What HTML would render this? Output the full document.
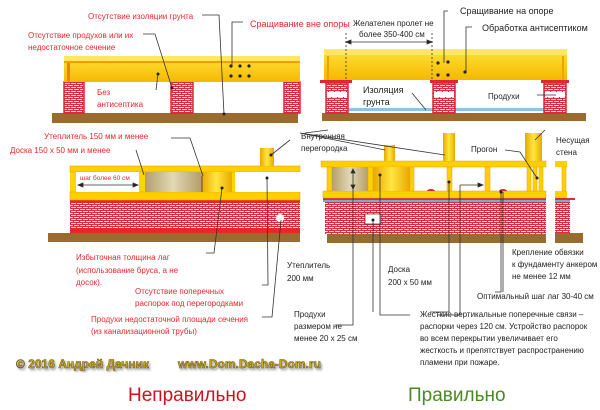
<!DOCTYPE html>
<html><head><meta charset="utf-8"><style>
html,body{margin:0;padding:0;background:#fff}
svg{display:block}
text{font-family:"Liberation Sans",sans-serif}
.r{fill:#e8262b;font-size:8px}
.k{fill:#222;font-size:8px}
</style></head><body>
<svg width="600" height="410" viewBox="0 0 600 410" xmlns="http://www.w3.org/2000/svg">
<defs>
<pattern id="br" width="6" height="4" patternUnits="userSpaceOnUse">
<rect width="6" height="4" fill="#fbe0e4"/>
<path d="M0 0.5H6M0 2.5H6M1.5 0V2.5M4.5 2.5V4" stroke="#e02a40" stroke-width="1.1"/>
</pattern>
<linearGradient id="yb" x1="0" y1="0" x2="0" y2="1"><stop offset="0" stop-color="#ffe23a"/><stop offset="1" stop-color="#f5b800"/></linearGradient>
<linearGradient id="ins" x1="0" y1="0" x2="1" y2="0"><stop offset="0" stop-color="#b59e6a"/><stop offset=".5" stop-color="#e2d8b6"/><stop offset="1" stop-color="#b59e6a"/></linearGradient>
<linearGradient id="post" x1="0" y1="0" x2="1" y2="0"><stop offset="0" stop-color="#e8a800"/><stop offset=".5" stop-color="#ffe640"/><stop offset="1" stop-color="#e8a800"/></linearGradient>
<filter id="sh"><feDropShadow dx="1.5" dy="2" stdDeviation="1" flood-color="#666" flood-opacity="0.6"/></filter>
</defs>

<!-- TOP LEFT -->
<rect x="52" y="113" width="246" height="10" fill="#9b6a2e"/>
<rect x="64" y="82" width="20" height="31" fill="url(#br)" stroke="#d8283a" stroke-width="1.5"/>
<rect x="171" y="82" width="22" height="31" fill="url(#br)" stroke="#d8283a" stroke-width="1.5"/>
<rect x="284" y="82" width="16" height="31" fill="url(#br)" stroke="#d8283a" stroke-width="1.5"/>
<rect x="64" y="56" width="236" height="26" fill="url(#yb)"/>
<rect x="64" y="56" width="236" height="5" fill="#ffe860"/>
<rect x="64" y="61" width="236" height="2" fill="#f0a000"/>
<rect x="67" y="63" width="3" height="18" fill="#f08000"/>
<g fill="#222"><circle cx="231" cy="66" r="1.6"/><circle cx="240" cy="66" r="1.6"/><circle cx="249" cy="66" r="1.6"/><circle cx="231" cy="76" r="1.6"/><circle cx="240" cy="76" r="1.6"/><circle cx="249" cy="76" r="1.6"/></g>
<g stroke="#333" stroke-width="0.8" fill="none">
<path d="M143 34H155L172 88"/><path d="M202 15H219L224 114"/><path d="M243 22H232V66"/><path d="M158 74L156 90"/>
</g>
<g fill="#222"><circle cx="158" cy="74" r="1.5"/><circle cx="172" cy="88" r="1.5"/><circle cx="224" cy="114" r="1.5"/></g>
<text class="r" x="88" y="19">Отсутствие изоляции грунта</text>
<text class="r" x="28" y="38">Отсутствие продухов или их</text>
<text class="r" x="28" y="50">недостаточное сечение</text>
<text class="r" x="250" y="27" style="font-size:9px">Сращивание вне опоры</text>
<text class="r" x="97" y="95">Без</text>
<text class="r" x="97" y="107">антисептика</text>

<!-- TOP RIGHT -->
<rect x="322" y="113" width="264" height="8" fill="#9b6a2e"/>
<rect x="345" y="108" width="90" height="3" fill="#8fc3e6"/>
<rect x="455" y="108" width="90" height="3" fill="#8fc3e6"/>
<g stroke="#d8283a" stroke-width="1.5">
<rect x="326" y="83" width="22" height="30" fill="url(#br)"/>
<rect x="433" y="83" width="22" height="30" fill="url(#br)"/>
<rect x="544" y="83" width="22" height="30" fill="url(#br)"/>
</g>
<g fill="#fff"><rect x="327" y="92" width="20" height="5"/><rect x="434" y="92" width="20" height="5"/><rect x="545" y="92" width="20" height="5"/></g>
<rect x="324" y="49" width="243" height="31" fill="url(#yb)"/>
<rect x="324" y="49" width="243" height="6" fill="#ffe860"/>
<rect x="327" y="56" width="2" height="24" fill="#f0a000"/><rect x="562" y="56" width="2" height="24" fill="#f0a000"/>
<rect x="320" y="80" width="32" height="3" fill="#d8283a"/><rect x="430" y="80" width="28" height="3" fill="#d8283a"/><rect x="541" y="80" width="28" height="3" fill="#d8283a"/>
<g fill="#222"><circle cx="438" cy="63" r="1.6"/><circle cx="448" cy="62" r="1.6"/><circle cx="438" cy="75" r="1.6"/><circle cx="448" cy="75" r="1.6"/><circle cx="465" cy="72" r="1.6"/></g>
<g stroke="#333" stroke-width="0.8" fill="none">
<path d="M346 33V80" stroke-dasharray="2,2"/><path d="M432 33V80" stroke-dasharray="2,2"/>
<path d="M348 42H430"/><path d="M346 42l5-2v4zM432 42l-5-2v4z" fill="#222"/>
<path d="M448 11H444V63"/><path d="M472 27H466V72"/><path d="M412 93L426 110"/><path d="M537 95H556"/>
</g>
<text class="k" x="353" y="26">Желателен пролет не</text>
<text class="k" x="359" y="37">более 350-400 см</text>
<text class="k" x="460" y="14" style="font-size:9px">Сращивание на опоре</text>
<text class="k" x="482" y="31" style="font-size:9px">Обработка антисептиком</text>
<text class="k" x="363" y="93" style="font-size:9px">Изоляция</text>
<text class="k" x="363" y="105" style="font-size:9px">грунта</text>
<text class="k" x="488" y="99">Продухи</text>

<!-- MID LEFT -->
<rect x="48" y="233" width="252" height="9" fill="#9b6a2e"/>
<rect x="70" y="200" width="230" height="33" fill="url(#br)"/>
<rect x="70" y="228" width="230" height="5" fill="#e8262b"/>
<rect x="70" y="200" width="230" height="3" fill="#e8262b"/>
<rect x="70" y="166" width="230" height="34" fill="#ffd400"/>
<rect x="70" y="166" width="230" height="6" fill="#ffd000" stroke="#f0a000" stroke-width="0.6"/>
<rect x="70" y="192" width="230" height="8" fill="#ffd000" stroke="#f0a000" stroke-width="0.6"/>
<rect x="76" y="172" width="63" height="20" fill="#fff"/>
<rect x="145" y="172" width="56" height="20" fill="url(#ins)"/>
<rect x="201" y="172" width="31" height="20" fill="url(#post)"/>
<rect x="235" y="172" width="65" height="20" fill="#fff"/>
<rect x="260" y="148" width="14" height="18" fill="url(#post)"/>
<circle cx="280" cy="218" r="4" fill="#fff"/>
<g stroke="#333" stroke-width="0.8" fill="none">
<path d="M78 185H138"/><path d="M78 185l5-2v4zM138 185l-5-2v4z" fill="#222"/>
<path d="M136 150L144 175"/><path d="M171 138H190L203 176"/><path d="M202 176V192"/>
<path d="M222 188L214 253H206"/><path d="M267 178L268 285H262"/><path d="M281 220L272 317H262"/>
<path d="M271 155L290 140"/>
</g>
<g fill="#222"><circle cx="222" cy="188" r="1.5"/><circle cx="267" cy="178" r="1.5"/><circle cx="271" cy="155" r="1.5"/></g>
<text x="80" y="180" style="font-size:6.5px;fill:#e8262b">шаг более 60 см</text>
<text class="r" x="44" y="139">Утеплитель 150 мм и менее</text>
<text class="r" x="10" y="153">Доска 150 х 50 мм и менее</text>
<text class="r" x="76" y="260">Избыточная толщина лаг</text>
<text class="r" x="76" y="273">(использование бруса, а не</text>
<text class="r" x="76" y="285">досок).</text>
<text class="r" x="135" y="294">Отсутствие поперечных</text>
<text class="r" x="135" y="306">распорок под перегородками</text>
<text class="r" x="91" y="322">Продухи недостаточной площади сечения</text>
<text class="r" x="91" y="334">(из канализационной трубы)</text>
<text class="k" x="301" y="139">Внутренняя</text>
<text class="k" x="301" y="151">перегородка</text>

<!-- MID RIGHT -->
<rect x="327" y="234" width="219" height="9" fill="#9b6a2e"/>
<rect x="555" y="233" width="28" height="10" fill="#9b6a2e"/>
<rect x="325" y="202" width="221" height="32" fill="url(#br)"/>
<rect x="555" y="202" width="15" height="31" fill="url(#br)"/>
<rect x="323" y="198" width="223" height="2" fill="#e8262b"/><rect x="323" y="200" width="223" height="2" fill="#6ab0e0"/>
<rect x="555" y="198" width="20" height="2" fill="#e8262b"/><rect x="555" y="200" width="15" height="2" fill="#6ab0e0"/>
<rect x="321" y="161" width="225" height="6" fill="#ffd000" stroke="#f0a000" stroke-width="0.5"/>
<rect x="555" y="161" width="12" height="6" fill="#ffd000"/>
<rect x="323" y="191" width="223" height="7" fill="#ffd000" stroke="#f0a000" stroke-width="0.5"/>
<rect x="555" y="191" width="12" height="7" fill="#ffd000"/>
<g fill="#ffd000" stroke="#f0a000" stroke-width="0.5">
<rect x="327" y="167" width="5" height="24"/><rect x="368" y="167" width="5" height="24"/><rect x="410" y="167" width="4" height="24"/>
<rect x="447" y="167" width="5" height="24"/><rect x="485" y="167" width="5" height="24"/><rect x="527" y="167" width="4" height="24"/>
<rect x="533" y="167" width="4" height="24"/><rect x="539" y="167" width="4" height="24"/><rect x="562" y="167" width="4" height="24"/>
</g>
<rect x="332" y="167" width="36" height="24" fill="url(#ins)"/>
<rect x="373" y="167" width="37" height="24" fill="url(#post)"/>
<rect x="384" y="145" width="11" height="16" fill="url(#post)"/>
<rect x="443" y="133" width="12" height="28" fill="url(#post)"/>
<rect x="525" y="133" width="17" height="28" fill="url(#post)"/>
<path d="M427 191a4 2 0 0 1 8 0zM499 191a4 2 0 0 1 8 0z" fill="#d8283a"/>
<rect x="365" y="214" width="16" height="10" fill="#fff" stroke="#333" stroke-width="0.7"/>
<g stroke="#333" stroke-width="0.8" fill="none">
<path d="M353 169V189"/><path d="M353 169l-2 4h4zM353 189l-2-4h4z" fill="#222"/>
<path d="M460 185H483"/><path d="M483 185l-5-2v4z" fill="#222"/>
<path d="M353 189V325H335"/><path d="M373 220V312"/><path d="M380 175V315H410"/>
<path d="M449 182V312H430"/><path d="M460 185V315H437"/>
<path d="M501 192V292H495"/>
<path d="M503 192V292"/>
<path d="M328 130L305 133M385 150L300 133M445 155L300 133"/>
<path d="M505 150L520 152L537 178"/><path d="M535 140L545 130"/>
</g>
<g fill="#222"><circle cx="373" cy="220" r="1.5"/><circle cx="380" cy="175" r="1.5"/><circle cx="449" cy="182" r="1.5"/><circle cx="501" cy="192" r="1.5"/><circle cx="537" cy="178" r="1.5"/></g>
<text class="k" x="471" y="152">Прогон</text>
<text class="k" x="556" y="143">Несущая</text>
<text class="k" x="556" y="155">стена</text>
<text class="k" x="287" y="268">Утеплитель</text>
<text class="k" x="287" y="281">200 мм</text>
<text class="k" x="388" y="272">Доска</text>
<text class="k" x="388" y="285">200 х 50 мм</text>
<text class="k" x="512" y="255">Крепление обвязки</text>
<text class="k" x="512" y="267">к фундаменту анкером</text>
<text class="k" x="512" y="279">не менее 12 мм</text>
<text class="k" x="477" y="299">Оптимальный шаг лаг 30-40 см</text>
<text class="k" x="294" y="317">Продухи</text>
<text class="k" x="294" y="329">размером не</text>
<text class="k" x="294" y="341">менее 20 х 25 см</text>
<text class="k" x="420" y="317">Жесткие вертикальные поперечные связи –</text>
<text class="k" x="420" y="329">распорки через 120 см. Устройство распорок</text>
<text class="k" x="420" y="341">во всем перекрытии увеличивает его</text>
<text class="k" x="420" y="353">жесткость и препятствует распространению</text>
<text class="k" x="420" y="365">пламени при пожаре.</text>

<!-- footer -->
<g filter="url(#sh)">
<text x="16" y="368" style="font-size:12px;font-weight:bold;fill:#c9a81c;stroke:#6a5410;stroke-width:0.5">© 2016 Андрей Дачник</text>
<text x="178" y="368" style="font-size:12px;font-weight:bold;fill:#c9a81c;stroke:#6a5410;stroke-width:0.5">www.Dom.Dacha-Dom.ru</text>
</g>
<text x="128" y="401" style="font-size:19px;fill:#d0101a">Неправильно</text>
<text x="408" y="401" style="font-size:19px;fill:#4a8a20">Правильно</text>
</svg>
</body></html>
